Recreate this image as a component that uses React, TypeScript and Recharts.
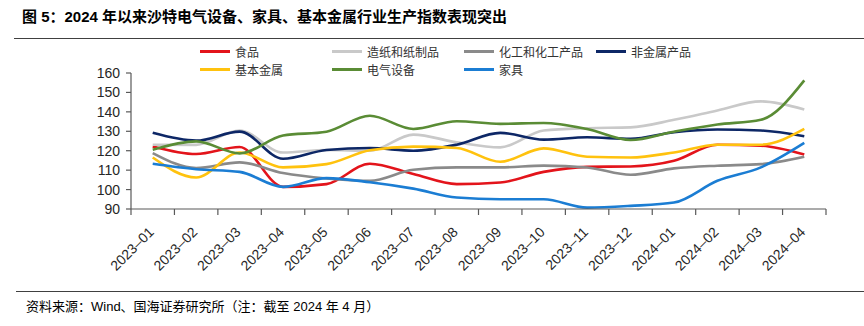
import React from "react"
import { LineChart, Line, XAxis, YAxis, Legend } from "recharts"

const categories = [
  "2023–01", "2023–02", "2023–03", "2023–04", "2023–05", "2023–06", "2023–07", "2023–08",
  "2023–09", "2023–10", "2023–11", "2023–12", "2024–01", "2024–02", "2024–03", "2024–04",
]

const food = [122.2, 118.3, 121.9, 101.4, 102.8, 113.3, 108, 102.8, 103.6, 109.1, 111.7, 111.9, 114.8, 123.1, 122.6, 118]
const paper = [123.1, 123, 130.4, 119.1, 120.4, 120, 128.3, 124.3, 121.7, 130.4, 131.6, 132, 135.9, 140.7, 145.4, 141.2]
const chem = [118.8, 111.1, 114, 108.5, 105.7, 104.5, 110.2, 111.4, 111.4, 112.3, 111.4, 107.6, 110.9, 112.3, 113.1, 116.9]
const nonMetal = [129.2, 125.2, 129.8, 115.9, 120.4, 121.4, 120, 123.1, 129.2, 125.7, 126.9, 126.1, 129.5, 130.9, 130.4, 127.4]
const basicMetal = [116.5, 106.2, 119.1, 111.4, 113.1, 120.2, 122.1, 121.4, 114.3, 121.2, 116.9, 116.5, 119.1, 123.1, 123.1, 131.2]
const electrical = [120.5, 124.8, 118.6, 127.8, 129.8, 138, 131.2, 135.2, 133.8, 134.3, 131.2, 125.5, 129.8, 133.5, 135.9, 156.2]
const furniture = [113.3, 110.5, 109.1, 101.4, 105.9, 103.8, 100.5, 95.9, 95, 95, 90.7, 91.6, 93.3, 104.5, 111.4, 124]

const yTicks = [90, 100, 110, 120, 130, 140, 150, 160]

const series = [
  { key: "food", name: "食品", color: "#e3141b", values: food },
  { key: "paper", name: "造纸和纸制品", color: "#c9c9c9", values: paper },
  { key: "chem", name: "化工和化工产品", color: "#8a8a8a", values: chem },
  { key: "nonMetal", name: "非金属产品", color: "#0d2766", values: nonMetal },
  { key: "basicMetal", name: "基本金属", color: "#ffc20e", values: basicMetal },
  { key: "electrical", name: "电气设备", color: "#5a8c35", values: electrical },
  { key: "furniture", name: "家具", color: "#1b7dd3", values: furniture },
]

const data = categories.map((c, i) => {
  const row: Record<string, number | string> = { x: i + 0.5, label: c }
  series.forEach((s) => (row[s.key] = s.values[i]))
  return row
})

// ticks at band edges (integers) get a mark, half steps get the label
const xTicks: number[] = []
for (let i = 0; i <= categories.length * 2; i++) xTicks.push(i / 2)

const sans = "'Liberation Sans', Arial, 'Noto Sans CJK SC', sans-serif"
const cjk = "'Noto Sans CJK SC', sans-serif"

function XTick(props: any) {
  const { x, y, payload } = props
  const v = payload.value as number
  if (Number.isInteger(v)) {
    return <line x1={x} x2={x} y1={y} y2={y + 6} stroke="#595959" strokeWidth={1.2} />
  }
  const label = categories[Math.floor(v)]
  return (
    <text
      x={x + 2}
      y={y + 24}
      textAnchor="end"
      transform={`rotate(-45, ${x + 2}, ${y + 24})`}
      fontSize={14}
      fontFamily={sans}
      fill="#262626"
    >
      {label}
    </text>
  )
}

function LegendBox() {
  return (
    <div style={{ display: "grid", gridTemplateColumns: "132px 132px 132px 132px", rowGap: 0 }}>
      {series.map((s) => (
        <div key={s.key} style={{ display: "flex", alignItems: "center", height: 18 }}>
          <span style={{ display: "inline-block", width: 30, height: 3, background: s.color, marginRight: 5 }} />
          <span style={{ fontSize: 12, fontFamily: cjk, color: "#333", whiteSpace: "nowrap" }}>{s.name}</span>
        </div>
      ))}
    </div>
  )
}

export default function App() {
  return (
    <div style={{ position: "absolute", left: 0, top: 0, width: 864, height: 326, background: "#fff" }}>
      <div
        style={{
          position: "absolute",
          left: 22,
          top: 5,
          fontSize: 15,
          fontWeight: 700,
          fontFamily: sans,
          color: "#000",
          whiteSpace: "nowrap",
        }}
      >
        图 5：2024 年以来沙特电气设备、家具、基本金属行业生产指数表现突出
      </div>
      <div style={{ position: "absolute", left: 14, right: 0, top: 38, height: 0, borderTop: "1.5px solid #404040" }} />

      <LineChart
        width={864}
        height={326}
        data={data}
        margin={{ top: 73, right: 38, bottom: 0, left: 0 }}
        style={{ position: "absolute", left: 0, top: 0 }}
      >
        <XAxis
          dataKey="x"
          type="number"
          domain={[0, categories.length]}
          ticks={xTicks}
          interval={0}
          tickLine={false}
          tickSize={0}
          tickMargin={0}
          tick={<XTick />}
          axisLine={{ stroke: "#595959", strokeWidth: 1.2 }}
          height={117}
        />
        <YAxis
          domain={[90, 160]}
          ticks={yTicks}
          interval={0}
          width={131}
          tickSize={5}
          tickMargin={6}
          tickLine={{ stroke: "#595959", strokeWidth: 1.2 }}
          axisLine={{ stroke: "#595959", strokeWidth: 1.2 }}
          tick={{ fill: "#262626", fontSize: 14, fontFamily: sans }}
        />
        <Legend
          layout="horizontal"
          verticalAlign="middle"
          align="center"
          content={() => <LegendBox />}
          wrapperStyle={{ top: 42, left: 200, width: 540, height: 36 }}
        />
        {series.map((s) => (
          <Line
            key={s.key}
            type="monotone"
            dataKey={s.key}
            name={s.name}
            stroke={s.color}
            strokeWidth={2.6}
            dot={false}
            activeDot={false}
            isAnimationActive={false}
          />
        ))}
      </LineChart>

      <div style={{ position: "absolute", left: 16, right: 0, top: 291, height: 0, borderTop: "1.5px solid #404040" }} />
      <div
        style={{
          position: "absolute",
          left: 26,
          top: 296,
          fontSize: 13,
          fontFamily: sans,
          color: "#000",
          whiteSpace: "nowrap",
        }}
      >
        资料来源：Wind、国海证券研究所（注：截至 2024 年 4 月）
      </div>
    </div>
  )
}
